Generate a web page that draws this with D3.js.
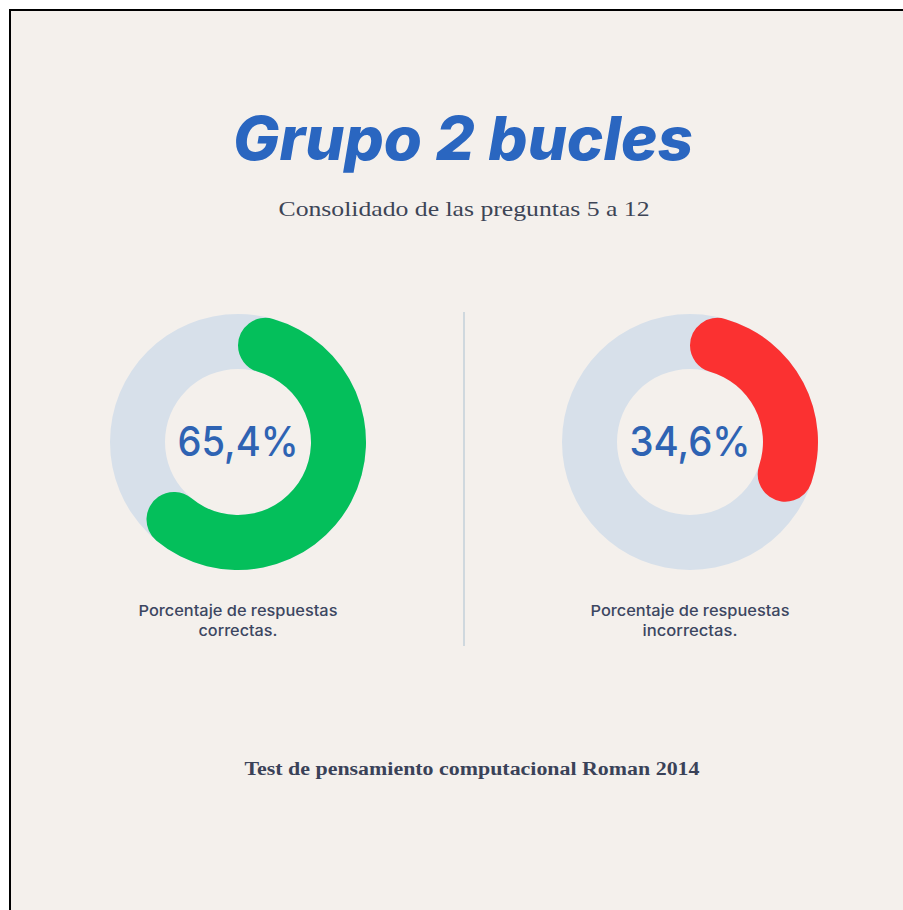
<!DOCTYPE html>
<html><head><meta charset="utf-8">
<script src="https://cdn.jsdelivr.net/npm/d3@7"></script>
<style>html,body{margin:0;padding:0;background:#ffffff;}svg{display:block;}</style>
</head><body>
<script>
const title = "Grupo 2 bucles";
const subtitle = "Consolidado de las preguntas 5 a 12";
const footer = "Test de pensamiento computacional Roman 2014";
const categories = ["correctas", "incorrectas"];
const values = [65.4, 34.6];
const valueLabels = ["65,4%", "34,6%"];
const captionLine1 = ["Porcentaje de respuestas", "Porcentaje de respuestas"];
const captionLine2 = ["correctas.", "incorrectas."];
const colors = ["#04bf5b", "#fb3131"];

const W = 903, H = 910;
const svg = d3.select("body").append("svg").attr("width", W).attr("height", H);

svg.append("rect").attr("x", 10).attr("y", 10).attr("width", W).attr("height", H)
  .attr("fill", "#f4f0ec").attr("stroke", "#000").attr("stroke-width", 2);

svg.append("text").attr("x", 463).attr("y", 160).attr("text-anchor", "middle")
  .attr("font-family", "Inter, Liberation Sans, Arial, sans-serif").attr("font-weight", 800)
  .attr("font-style", "italic").attr("font-size", 60).attr("fill", "#2a66c0")
  .attr("textLength", 460).attr("lengthAdjust", "spacingAndGlyphs")
  .text(title);

svg.append("text").attr("x", 464).attr("y", 216).attr("text-anchor", "middle")
  .attr("font-family", "Liberation Serif, Times New Roman, serif")
  .attr("font-size", 21).attr("fill", "#3d4556")
  .attr("textLength", 371).attr("lengthAdjust", "spacingAndGlyphs")
  .text(subtitle);

const x = d3.scalePoint().domain(categories).range([238, 690]);
const angle = d3.scaleLinear().domain([0, 100]).range([0, 2 * Math.PI]);
const rOuter = 128, rInner = 73;
const arc = d3.arc().innerRadius(rInner).outerRadius(rOuter);
const arcRound = d3.arc().innerRadius(rInner).outerRadius(rOuter).cornerRadius((rOuter - rInner) / 2);

svg.append("line").attr("x1", 464).attr("x2", 464).attr("y1", 312).attr("y2", 646)
  .attr("stroke", "#c3d0da").attr("stroke-width", 1.5);

const captionLen1 = [199, 199];
const captionLen2 = [79, 95];

categories.forEach((c, i) => {
  const g = svg.append("g").attr("transform", `translate(${x(c)},442)`);
  g.append("path").attr("d", arc({startAngle: 0, endAngle: angle(100)})).attr("fill", "#d7e0ea");
  g.append("path").attr("d", arcRound({startAngle: 0, endAngle: angle(values[i])})).attr("fill", colors[i]);
  g.append("text").attr("y", 14).attr("text-anchor", "middle")
    .attr("font-family", "Inter, Liberation Sans, Arial, sans-serif").attr("font-weight", 500)
    .attr("font-size", 41).attr("fill", "#2e63b3")
    .attr("textLength", 121).attr("lengthAdjust", "spacingAndGlyphs")
    .text(valueLabels[i]);
  svg.append("text").attr("x", x(c)).attr("y", 616).attr("text-anchor", "middle")
    .attr("font-family", "Inter, Liberation Sans, Arial, sans-serif").attr("font-size", 15)
    .attr("font-weight", 500).attr("fill", "#3c4661")
    .attr("textLength", captionLen1[i]).attr("lengthAdjust", "spacingAndGlyphs")
    .text(captionLine1[i]);
  svg.append("text").attr("x", x(c)).attr("y", 636).attr("text-anchor", "middle")
    .attr("font-family", "Inter, Liberation Sans, Arial, sans-serif").attr("font-size", 15)
    .attr("font-weight", 500).attr("fill", "#3c4661")
    .attr("textLength", captionLen2[i]).attr("lengthAdjust", "spacingAndGlyphs")
    .text(captionLine2[i]);
});

svg.append("text").attr("x", 472).attr("y", 775).attr("text-anchor", "middle")
  .attr("font-family", "Liberation Serif, Times New Roman, serif").attr("font-weight", 700)
  .attr("font-size", 18).attr("fill", "#3a4258")
  .attr("textLength", 455).attr("lengthAdjust", "spacingAndGlyphs")
  .text(footer);
</script>
</body></html>
